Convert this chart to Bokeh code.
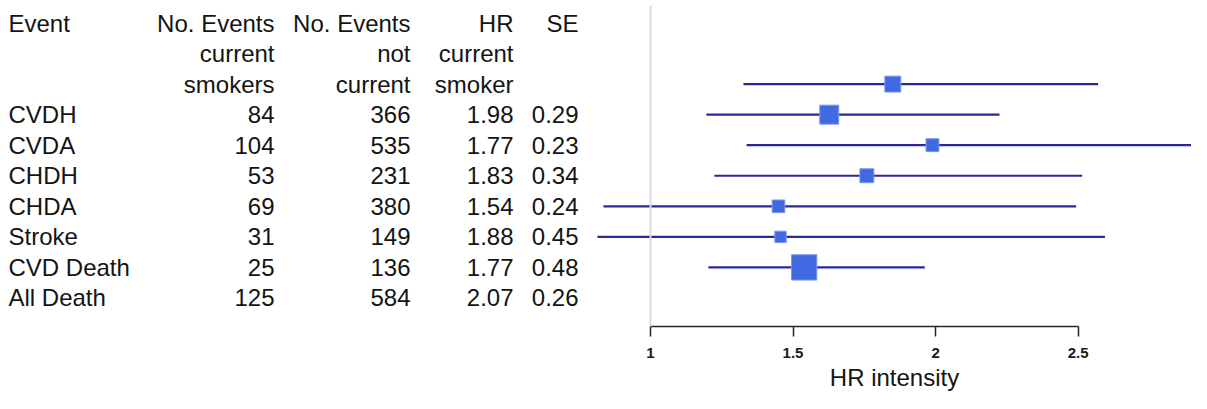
from bokeh.plotting import figure
from bokeh.models import Range1d, Span, FixedTicker, ColumnDataSource
from bokeh.layouts import row
from bokeh.core.properties import value
from bokeh.embed import file_html
from bokeh.resources import INLINE

# ---------------- data ----------------
events = ["CVDH", "CVDA", "CHDH", "CHDA", "Stroke", "CVD Death", "All Death"]
n_current = ["84", "104", "53", "69", "31", "25", "125"]
n_not_current = ["366", "535", "231", "380", "149", "136", "584"]
hr_current = ["1.98", "1.77", "1.83", "1.54", "1.88", "1.77", "2.07"]
se_values = ["0.29", "0.23", "0.34", "0.24", "0.45", "0.48", "0.26"]

header_event = ["Event", "", ""]
header_ncur = ["No. Events", "current", "smokers"]
header_nnot = ["No. Events", "not", "current"]
header_hr = ["HR", "current", "smoker"]
header_se = ["SE", "", ""]

# values as drawn in the forest panel
plot_mean = [1.850, 1.627, 1.989, 1.759, 1.449, 1.456, 1.539]
plot_lower = [1.326, 1.196, 1.337, 1.224, 0.835, 0.800, 1.203]
plot_upper = [2.570, 2.224, 3.000, 2.514, 2.493, 2.594, 1.962]
box_weight = [0.63, 0.75, 0.51, 0.55, 0.50, 0.45, 1.00]

tick_values = [1, 1.5, 2, 2.5]
tick_labels = ["1", "1.5", "2", "2.5"]
x_label = "HR intensity"

# ---------------- layout constants ----------------
FONT = "Liberation Sans"
TOP = 5            # screen y of frame top
FH = 321           # frame height
BB = 67            # bottom border (axis area)
ROW0 = 22.5        # screen y of first text line
ROWH = 30.55       # row pitch in px
LEFT_W = 597
RIGHT_W = 594
PX_PER_UNIT = 285.1
X_ONE_PX = 650     # screen x of HR = 1
RIGHT_X0 = LEFT_W

y_top = -(TOP - ROW0) / ROWH
y_bot = -((TOP + FH) - ROW0) / ROWH
yr = Range1d(start=y_bot, end=y_top)

n_head = len(header_ncur)
head_y = [-k for k in range(n_head)]
data_y = [-(k + n_head) for k in range(len(events))]
# forest rows sit one line above their table rows (as in the original)
forest_y = [-(k + n_head - 1) for k in range(len(plot_mean))]


def base_fig(width, xr):
    p = figure(frame_width=width, frame_height=FH, x_range=xr, y_range=yr,
               toolbar_location=None, output_backend="svg",
               min_border_left=0, min_border_right=0, min_border_top=TOP,
               min_border_bottom=BB, outline_line_color=None,
               background_fill_color="white", border_fill_color="white",
               y_axis_location=None)
    p.grid.visible = False
    return p


# ---------------- table ----------------
left = base_fig(LEFT_W, Range1d(0, LEFT_W))
left.xaxis.visible = False

col_event_x = 8
col_right_x = [274, 410, 513, 578]
txt = dict(text_font=value(FONT), text_font_size="24px", text_color="#141414",
           text_baseline="middle")

left_src = ColumnDataSource(dict(
    x=[col_event_x] * (n_head + len(events)),
    y=head_y + data_y,
    t=header_event + events))
left.text(x="x", y="y", text="t", source=left_src, text_align="left", **txt)

cols = [(header_ncur, n_current), (header_nnot, n_not_current),
        (header_hr, hr_current), (header_se, se_values)]
rx, ry, rt = [], [], []
for cx, (hdr, vals) in zip(col_right_x, cols):
    for yy, s in zip(head_y + data_y, hdr + vals):
        if s:
            rx.append(cx)
            ry.append(yy)
            rt.append(s)
left.text(x="x", y="y", text="t", source=ColumnDataSource(dict(x=rx, y=ry, t=rt)),
          text_align="right", **txt)

# ---------------- forest panel ----------------
x0 = 1 - (X_ONE_PX - RIGHT_X0) / PX_PER_UNIT
x1 = 1 + (RIGHT_X0 + RIGHT_W - X_ONE_PX) / PX_PER_UNIT
right = base_fig(RIGHT_W, Range1d(x0, x1))

right.add_layout(Span(location=1, dimension="height", line_color="#dadada",
                      line_width=2))

MAX_BOX = 25.3
src = ColumnDataSource(dict(
    m=plot_mean, lo=plot_lower, hi=plot_upper, y=forest_y,
    s=[w * MAX_BOX for w in box_weight]))
right.segment(x0="lo", y0="y", x1="hi", y1="y", source=src,
              line_color="#28289c", line_width=2.2)
right.scatter(x="m", y="y", size="s", marker="square", source=src,
              fill_color="#4169E1", line_color="#7d97ee", line_width=1)

ax = right.xaxis[0]
ax.ticker = FixedTicker(ticks=tick_values)
ax.major_label_overrides = {v: l for v, l in zip(tick_values, tick_labels)}
ax.bounds = (min(tick_values), max(tick_values))
ax.minor_tick_line_color = None
ax.major_tick_in = 0
ax.major_tick_out = 10
ax.axis_line_color = "#262626"
ax.axis_line_width = 1.5
ax.major_tick_line_color = "#262626"
ax.major_tick_line_width = 1.5
ax.major_label_text_font = FONT
ax.major_label_text_font_size = "15px"
ax.major_label_text_font_style = "bold"
ax.major_label_text_color = "#1a1a1a"
ax.major_label_standoff = 11
ax.axis_label = x_label
ax.axis_label_text_font = FONT
ax.axis_label_text_font_size = "24px"
ax.axis_label_text_font_style = "normal"
ax.axis_label_text_color = "#141414"
ax.axis_label_standoff = 3

layout = row(left, right)
open("out.html", "w").write(file_html(layout, INLINE))
